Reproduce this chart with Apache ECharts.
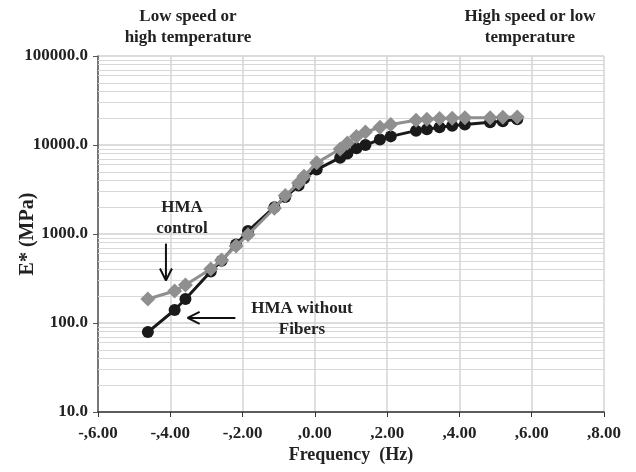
<!DOCTYPE html>
<html><head><meta charset="utf-8">
<script src="https://cdn.jsdelivr.net/npm/echarts@6/dist/echarts.min.js"></script>
<style>html,body{margin:0;padding:0;background:#fff}#c{width:636px;height:472px}</style>
</head><body><div id="c"></div>
<script>
// Log frequency (x) shared by both series
const freq = [-4.62, -3.88, -3.58, -2.88, -2.58, -2.18, -1.85, -1.12, -0.82, -0.45, -0.30, 0.05, 0.70, 0.90, 1.15, 1.40, 1.80, 2.10, 2.80, 3.10, 3.45, 3.80, 4.15, 4.85, 5.20, 5.60];
const hmaControl = [186, 229, 268, 405, 510, 735, 980, 1950, 2700, 3730, 4460, 6300, 9000, 10500, 12500, 14000, 15800, 17000, 19000, 19500, 19800, 20000, 20200, 20300, 20500, 20700];
const hmaNoFibers = [79, 140, 186, 380, 500, 760, 1080, 2000, 2600, 3500, 4200, 5300, 7200, 8000, 9200, 10000, 11500, 12500, 14500, 15000, 15800, 16500, 17000, 18000, 18500, 19500];
const xTickLabels = {"-6": "-,6.00", "-4": "-,4.00", "-2": "-,2.00", "0": ",0.00", "2": ",2.00", "4": ",4.00", "6": ",6.00", "8": ",8.00"};
const minorGrid = [20,30,40,50,60,70,80,90,200,300,400,500,600,700,800,900,2000,3000,4000,5000,6000,7000,8000,9000,20000,30000,40000,50000,60000,70000,80000,90000];

const FONT = '"Liberation Serif", "Times New Roman", serif';
const chart = echarts.init(document.getElementById('c'));
const pair = (xs, ys) => xs.map((x, i) => [x, ys[i]]);

chart.setOption({
  animation: false,
  backgroundColor: '#fff',
  grid: {left: 98, right: 32, top: 56, bottom: 60, containLabel: false, outerBoundsMode: 'none'},
  xAxis: {
    type: 'value', min: -6, max: 8, interval: 2,
    name: 'Frequency  (Hz)', nameLocation: 'middle', nameGap: 34, nameMoveOverlap: false,
    nameTextStyle: {fontFamily: FONT, fontWeight: 'bold', fontSize: 18, color: '#222'},
    axisLine: {onZero: false, lineStyle: {color: '#333', width: 1.5}},
    axisTick: {show: true, length: 5, lineStyle: {color: '#333'}},
    axisLabel: {fontFamily: FONT, fontWeight: 'bold', fontSize: 17, color: '#222', margin: 13,
      formatter: v => xTickLabels[String(v)] || ''},
    splitLine: {show: true, lineStyle: {color: '#d4d4d4', width: 1.5}}
  },
  yAxis: {
    type: 'log', logBase: 10, min: 10, max: 100000,
    name: 'E* (MPa)', nameLocation: 'middle', nameGap: 60, nameMoveOverlap: false,
    nameTextStyle: {fontFamily: FONT, fontWeight: 'bold', fontSize: 20, color: '#222'},
    axisLine: {show: true, onZero: false, lineStyle: {color: '#555', width: 1.5}},
    axisTick: {show: true, length: 5, lineStyle: {color: '#555'}},
    axisLabel: {fontFamily: FONT, fontWeight: 'bold', fontSize: 17, color: '#222', margin: 10,
      formatter: v => Number(v).toFixed(1)},
    splitLine: {show: true, lineStyle: {color: '#d0d0d0', width: 1.5}}
  },
  series: [
    {
      name: 'minor grid', type: 'line', data: [], z: 1, silent: true,
      markLine: {
        silent: true, symbol: 'none', label: {show: false}, z: 1,
        lineStyle: {color: '#d8d8d8', width: 1, type: 'solid'},
        data: minorGrid.map(v => ({yAxis: v}))
      }
    },
    {
      name: 'HMA without Fibers', type: 'line', data: pair(freq, hmaNoFibers),
      symbol: 'circle', symbolSize: 12,
      lineStyle: {color: '#1a1a1a', width: 3},
      itemStyle: {color: '#1a1a1a'},
      z: 3
    },
    {
      name: 'HMA control', type: 'line', data: pair(freq, hmaControl),
      symbol: 'diamond', symbolSize: 15,
      lineStyle: {color: '#8f8f8f', width: 3},
      itemStyle: {color: '#8f8f8f'},
      z: 4
    }
  ]
});

// Annotations anchored in data space
function px(x, y) { return chart.convertToPixel({gridIndex: 0}, [x, y]); }
const a1 = px(-4.12, 780), a2 = px(-4.12, 300);
const b1 = px(-2.2, 114), b2 = px(-3.52, 114);
const txt = (x, y, s) => ({type: 'text', x: x, y: y, z: 100, style: {text: s, fontFamily: FONT, fontWeight: 'bold', fontSize: 17, fill: '#222', align: 'center', verticalAlign: 'middle', lineHeight: 21}});
const line = (p, q) => ({type: 'line', z: 100, shape: {x1: p[0], y1: p[1], x2: q[0], y2: q[1]}, style: {stroke: '#111', lineWidth: 2}});
chart.setOption({
  graphic: [
    txt(188, 27, 'Low speed or\nhigh temperature'),
    txt(530, 27, 'High speed or low\ntemperature'),
    txt(182, 218, 'HMA\ncontrol'),
    txt(302, 319, 'HMA without\nFibers'),
    line(a1, a2),
    line(a2, [a2[0] - 6, a2[1] - 12]),
    line(a2, [a2[0] + 6, a2[1] - 12]),
    line(b1, b2),
    line(b2, [b2[0] + 12, b2[1] - 6]),
    line(b2, [b2[0] + 12, b2[1] + 6])
  ]
});
</script></body></html>
